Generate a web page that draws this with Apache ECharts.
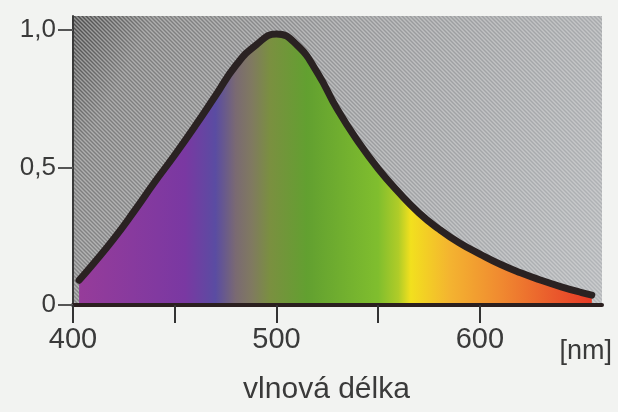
<!DOCTYPE html>
<html>
<head>
<meta charset="utf-8">
<script src="https://cdn.jsdelivr.net/npm/echarts@6/dist/echarts.min.js"></script>
<style>
  html, body { margin: 0; padding: 0; background: #f2f3f1; }
  #chart { width: 618px; height: 412px; }
</style>
</head>
<body>
<div id="chart"></div>
<script>
// wavelength [nm] and relative sensitivity
const wavelength = [403, 410, 420, 430, 440, 450, 460, 470, 480, 490, 500, 510, 520, 530, 540, 550, 560, 570, 580, 590, 600, 610, 620, 630, 640, 650, 655]
const sensitivity = [0.09, 0.15, 0.24, 0.34, 0.445, 0.545, 0.65, 0.76, 0.87, 0.945, 0.985, 0.945, 0.845, 0.71, 0.595, 0.495, 0.41, 0.335, 0.275, 0.225, 0.185, 0.148, 0.117, 0.09, 0.066, 0.045, 0.036]

const xTicks = [400, 450, 500, 550, 600]
const xLabels = [400, 500, 600]
const yTicks = [0, 0.5, 1]

// spectrum colours along the wavelength axis
const spectrumNm = [400, 455, 470, 480, 488, 497, 515, 550, 560, 566, 585, 610, 636, 656]
const spectrumColor = ['#963c9a', '#7a38a2', '#5a4ca2', '#7a6a72', '#807a60', '#7a9040', '#62a030', '#80be2e', '#b0cc28', '#f2e01e', '#f4b430', '#f08a30', '#ea5a2c', '#e83a26']

const chart = echarts.init(document.getElementById('chart'), null, { renderer: 'canvas' })

const lo = wavelength[0]
const hi = wavelength[wavelength.length - 1]
const stops = spectrumNm.map((nm, i) => ({
  offset: Math.min(1, Math.max(0, (nm - lo) / (hi - lo))),
  color: spectrumColor[i]
}))

const font = '"Liberation Sans", Arial, sans-serif'
const textColor = '#3a3a3a'

const option = {
  animation: false,
  backgroundColor: '#f2f3f1',
  grid: {
    left: 73,
    right: 16,
    top: 16,
    bottom: 107,
    show: true,
    borderWidth: 0,
    backgroundColor: '#9a9a9a'
  },
  xAxis: {
    type: 'value',
    min: 400,
    max: 660,
    z: 5,
    name: 'vlnová délka',
    nameLocation: 'middle',
    nameGap: 70,
    nameTextStyle: { fontFamily: font, fontSize: 30, color: textColor, padding: [0, 22, 0, 0] },
    axisLine: { lineStyle: { color: '#2b1f1f', width: 4 } },
    axisTick: {
      customValues: xTicks,
      length: 18,
      lineStyle: { color: '#333', width: 2 }
    },
    axisLabel: {
      customValues: xLabels,
      margin: 20,
      fontFamily: font,
      fontSize: 29,
      color: textColor
    },
    splitLine: { show: false }
  },
  yAxis: {
    type: 'value',
    min: 0,
    max: 1.05,
    z: 5,
    axisLine: { show: true, lineStyle: { color: '#3a3a3a', width: 2 } },
    axisTick: {
      customValues: yTicks,
      length: 15,
      lineStyle: { color: '#555', width: 2 }
    },
    axisLabel: {
      customValues: yTicks,
      margin: 17,
      fontFamily: font,
      fontSize: 26,
      color: textColor,
      formatter: (v) => (v === 0 ? '0' : v.toFixed(1).replace('.', ','))
    },
    splitLine: { show: false }
  },
  graphic: [{
    type: 'text',
    right: 6,
    top: 338,
    style: { text: '[nm]', fontFamily: font, fontSize: 27, fill: textColor }
  }],
  series: [{
    type: 'line',
    smooth: 0.5,
    symbol: 'none',
    lineStyle: { color: '#2a2222', width: 7, cap: 'round' },
    areaStyle: {
      opacity: 1,
      color: new echarts.graphic.LinearGradient(0, 0, 1, 0, stops)
    },
    data: wavelength.map((nm, i) => [nm, sensitivity[i]])
  }]
}

chart.setOption(option)

// hatched grey backdrop drawn to match the grid rectangle
const p0 = chart.convertToPixel({ gridIndex: 0 }, [400, 1.05])
const p1 = chart.convertToPixel({ gridIndex: 0 }, [660, 0])
const cv = document.createElement('canvas')
cv.width = 618
cv.height = 412
const ctx = cv.getContext('2d')
const g = ctx.createLinearGradient(p0[0], p0[1], p1[0], p1[1])
g.addColorStop(0, '#4a4a4a')
g.addColorStop(0.12, '#7c7c7c')
g.addColorStop(0.4, '#959698')
g.addColorStop(1, '#b4b7ba')
ctx.fillStyle = g
ctx.fillRect(0, 0, 618, 412)
ctx.strokeStyle = 'rgba(225, 225, 225, 0.5)'
ctx.lineWidth = 1.4
for (let k = -420; k < 640; k += 4) {
  ctx.beginPath()
  ctx.moveTo(k, 0)
  ctx.lineTo(k + 412, 412)
  ctx.stroke()
}
chart.setOption({ grid: { backgroundColor: { image: cv, repeat: 'no-repeat' } } })
</script>
</body>
</html>
